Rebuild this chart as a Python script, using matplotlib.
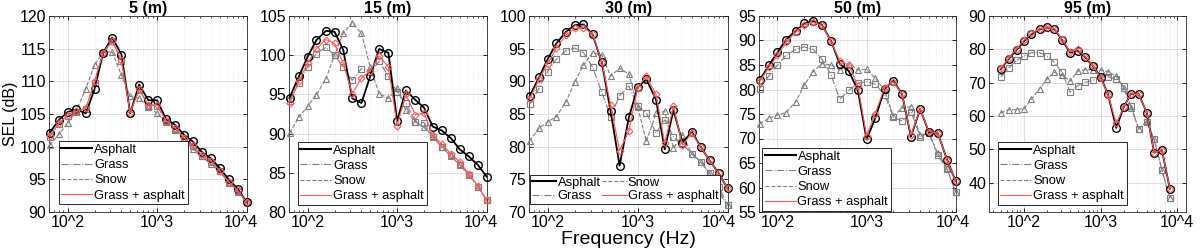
import numpy as np
import matplotlib
matplotlib.use("Agg")
import matplotlib.pyplot as plt
import matplotlib.transforms as mtransforms
from matplotlib.lines import Line2D
from matplotlib.ticker import NullFormatter, LogLocator

plt.rcParams['font.family'] = ['Liberation Sans', 'DejaVu Sans']

freq_63 = [63, 80, 100, 125, 160, 200, 250, 315, 400, 500, 630, 800, 1000,
           1250, 1600, 2000, 2500, 3150, 4000, 5000, 6300, 8000, 10000]
freq_50 = [50, 63, 80, 100, 125, 160, 200, 250, 315, 400, 500, 630, 800,
           1000, 1250, 1600, 2000, 2500, 3150, 4000, 5000, 6300, 8000]

titles = ['5 (m)', '15 (m)', '30 (m)', '50 (m)', '95 (m)']
series_names = ['Asphalt', 'Grass', 'Snow', 'Grass + asphalt']
xtick_labels = ['10^2', '10^3', '10^4']

# 5 m
asphalt_5 = [102.1, 104.1, 105.3, 105.7, 105.1, 108.8, 114.4, 116.7, 114.1, 105.1, 109.5, 107.1,
             107.1, 104.3, 103.3, 101.8, 100.8, 99.2, 98.2, 96.7, 95.0, 93.5, 91.5]
grass_5 = [101.5, 103.5, 104.7, 105.3, 105.8, 109.8, 114.3, 116.1, 113.1, 105.2, 108.7, 106.3,
           106.3, 103.9, 102.7, 101.2, 100.1, 98.6, 97.7, 96.2, 94.5, 93.2, 91.5]
snow_5 = [100.2, 101.9, 103.6, 105.5, 108.9, 112.5, 114.5, 114.5, 110.9, 107.7, 107.4, 106.1,
          105.1, 103.8, 102.6, 101.3, 99.6, 98.5, 97.3, 96.2, 94.6, 93.1, 91.5]
mixed_5 = [101.6, 103.6, 104.8, 105.4, 105.9, 110.0, 114.4, 116.2, 113.2, 105.2, 108.8, 106.4,
           106.4, 104.0, 102.8, 101.3, 100.2, 98.7, 97.8, 96.3, 94.6, 93.3, 91.5]

# 15 m
asphalt_15 = [94.6, 97.3, 99.8, 101.9, 103.1, 103.0, 100.7, 94.5, 93.9, 97.3, 100.8, 100.3,
              91.6, 95.5, 94.3, 93.3, 90.9, 90.4, 89.4, 88.0, 87.1, 86.0, 84.5]
grass_15 = [94.1, 96.5, 98.5, 100.2, 101.0, 100.0, 98.5, 96.8, 98.3, 97.8, 99.2, 97.3,
            95.3, 93.9, 91.5, 91.4, 89.6, 88.3, 87.1, 86.0, 84.7, 83.2, 81.5]
snow_15 = [90.1, 92.1, 93.5, 94.9, 97.0, 100.0, 102.8, 104.1, 102.8, 98.5, 95.1, 94.5,
           95.8, 93.0, 91.5, 90.8, 89.7, 88.3, 87.3, 86.1, 84.8, 83.2, 81.5]
mixed_15 = [93.9, 96.7, 99.0, 100.8, 102.0, 101.5, 99.0, 95.1, 97.1, 98.0, 99.9, 98.5,
            91.0, 95.0, 92.4, 92.6, 89.8, 88.7, 87.4, 86.4, 84.9, 83.3, 81.5]

# 30 m
asphalt_30 = [87.7, 90.6, 93.4, 95.8, 97.6, 98.6, 98.7, 97.2, 92.9, 85.5, 77.1, 84.5,
              89.1, 90.3, 87.2, 79.6, 85.6, 80.6, 82.3, 80.0, 77.9, 75.9, 73.6]
grass_30 = [86.5, 88.9, 91.5, 93.4, 94.7, 95.1, 94.4, 92.2, 88.3, 84.6, 87.8, 89.3,
            86.2, 85.2, 82.1, 84.1, 81.5, 80.4, 78.9, 77.7, 76.0, 73.9, 71.1]
snow_30 = [80.9, 82.8, 83.8, 84.6, 86.9, 89.9, 92.5, 94.4, 94.0, 90.8, 92.0, 91.1,
           86.1, 80.8, 85.1, 85.4, 79.8, 81.8, 78.9, 77.7, 75.9, 72.9, 71.1]
mixed_30 = [87.3, 90.3, 92.7, 95.1, 97.1, 98.1, 98.2, 97.3, 93.0, 86.4, 79.4, 82.4,
            89.0, 90.8, 88.0, 80.5, 86.2, 80.2, 82.1, 80.0, 77.9, 75.9, 73.6]

# 50 m
asphalt_50 = [81.9, 84.9, 87.6, 90.2, 92.0, 93.5, 94.0, 93.2, 89.9, 85.2, 83.8, 79.8,
              69.8, 74.1, 80.2, 81.8, 79.1, 70.4, 76.0, 71.3, 71.1, 65.7, 61.3]
grass_50 = [80.2, 82.8, 85.0, 87.0, 88.2, 88.7, 88.2, 86.2, 83.0, 78.0, 79.8, 81.3,
            81.6, 81.1, 78.9, 74.3, 73.6, 75.5, 70.4, 71.1, 66.6, 63.7, 59.1]
snow_50 = [73.0, 74.1, 74.8, 75.3, 77.5, 80.9, 83.6, 85.3, 85.0, 84.0, 85.3, 84.0,
           84.1, 82.3, 79.8, 74.6, 76.2, 76.5, 70.7, 71.1, 67.0, 63.9, 59.1]
mixed_50 = [81.7, 84.5, 87.0, 89.6, 91.7, 93.2, 93.7, 93.1, 89.8, 85.8, 85.0, 80.7,
            70.5, 75.1, 80.4, 81.6, 79.1, 70.7, 76.0, 71.4, 71.1, 65.7, 61.3]

# 95 m
asphalt_95 = [74.1, 77.1, 79.8, 82.4, 84.5, 86.0, 86.6, 86.0, 82.8, 79.0, 79.6, 77.6,
              74.9, 71.7, 66.5, 56.4, 62.7, 66.7, 66.5, 61.0, 49.0, 49.8, 38.2]
grass_95 = [71.7, 74.4, 76.7, 78.0, 79.0, 79.0, 78.0, 76.1, 73.1, 67.1, 69.1, 70.1,
            70.7, 71.3, 71.8, 71.0, 69.0, 62.9, 56.1, 58.2, 53.0, 43.8, 35.4]
snow_95 = [60.9, 61.9, 61.9, 62.2, 65.0, 68.2, 71.1, 73.1, 72.2, 70.5, 73.4, 73.9,
           73.9, 73.7, 73.3, 72.0, 68.5, 62.4, 56.1, 58.4, 53.0, 43.8, 35.4]
mixed_95 = [74.3, 77.3, 80.1, 82.7, 84.8, 86.1, 86.7, 86.1, 83.0, 79.2, 80.0, 77.8,
            75.0, 71.5, 66.4, 57.8, 62.6, 66.7, 66.5, 61.0, 49.0, 49.9, 38.2]

panels = [
    (freq_63, asphalt_5, grass_5, snow_5, mixed_5),
    (freq_63, asphalt_15, grass_15, snow_15, mixed_15),
    (freq_63, asphalt_30, grass_30, snow_30, mixed_30),
    (freq_63, asphalt_50, grass_50, snow_50, mixed_50),
    (freq_50, asphalt_95, grass_95, snow_95, mixed_95),
]

ylims = [(90, 120), (80, 105), (70, 100), (55, 95), (31.2, 90)]
yticks = [np.arange(90, 121, 5), np.arange(80, 106, 5), np.arange(70, 101, 5),
          np.arange(55, 96, 5), np.arange(40, 91, 10)]
xlims = [(62, 10100), (62, 10100), (62, 10100), (62, 10100), (35, 13000)]

# axes boxes in pixels: left, right
boxes = [(49, 247), (289, 487), (529, 728), (759, 956), (989, 1186)]
top_px, bot_px = 16, 212
W, H = 1200, 252

leg_anchor = [(0.05, 0.04), (0.045, 0.036), (0.005, 0.04), (0.015, 0.005), (0.045, 0.036)]
last_label_shift_px = [-6, -6, -9, -3, 0]

fig = plt.figure(figsize=(12, 2.52), dpi=100)

gray = '#7f7f7f'
red = '#ff5a5a'

for i, (fr, a, g, s, m) in enumerate(panels):
    l, r = boxes[i]
    ax = fig.add_axes([l / W, 1 - bot_px / H, (r - l) / W, (bot_px - top_px) / H])
    ax.set_xscale('log')
    ax.plot(fr, g, color=gray, ls='-.', lw=0.8, marker='s', ms=4.5, mfc='none', mec=gray, mew=0.8, clip_on=False, zorder=3)
    ax.plot(fr, s, color=gray, ls='--', lw=0.8, marker='^', ms=4.5, mfc='none', mec=gray, mew=0.8, clip_on=False, zorder=3)
    ax.plot(fr, a, color='black', ls='-', lw=1.3, marker='o', ms=5.5, mfc='none', mec='black', mew=1.0, clip_on=False, zorder=4)
    ax.plot(fr, m, color=red, ls='-', lw=0.8, marker='D', ms=3.5, mfc='none', mec=red, mew=0.8, clip_on=False, zorder=5)
    ax.set_xlim(*xlims[i])
    ax.set_ylim(*ylims[i])
    ax.set_yticks(yticks[i])
    ax.set_xticks([100, 1000, 10000])
    ax.set_xticklabels(xtick_labels)
    ax.xaxis.set_minor_locator(LogLocator(base=10, subs=np.arange(2, 10), numticks=20))
    ax.xaxis.set_minor_formatter(NullFormatter())
    ax.tick_params(axis='both', which='major', direction='in', length=3, labelsize=11.5, pad=2, width=0.6)
    ax.tick_params(axis='both', which='minor', direction='in', length=1.5, width=0.5)
    ax.tick_params(top=True, right=True, which='both')
    ax.grid(True, which='major', color='#d9d9d9', lw=0.6, ls='-')
    ax.grid(True, which='minor', axis='x', color='#e2e2e2', lw=0.5, ls=':')
    ax.set_axisbelow(True)
    for sp in ax.spines.values():
        sp.set_color('#262626')
        sp.set_linewidth(0.6)
    ax.set_title(titles[i], fontsize=11.5, fontweight='bold', pad=2)
    if i == 0:
        ax.set_ylabel('SEL (dB)', fontsize=11.5, labelpad=1)
    if i == 2:
        ax.set_xlabel('Frequency (Hz)', fontsize=14, labelpad=1)

    shift = last_label_shift_px[i]
    if shift:
        lab = ax.get_xticklabels()[-1]
        lab.set_transform(lab.get_transform() + mtransforms.ScaledTranslation(shift / 100, 0, fig.dpi_scale_trans))

    handles = [
        Line2D([], [], color='black', lw=1.5, ls='-'),
        Line2D([], [], color=gray, lw=0.8, ls='-.'),
        Line2D([], [], color=gray, lw=0.8, ls='--'),
        Line2D([], [], color=red, lw=0.8, ls='-'),
    ]
    if i == 2:
        leg = ax.legend(handles, series_names, ncol=2, loc='lower left', bbox_to_anchor=leg_anchor[i],
                        borderaxespad=0, fontsize=9.3, handlelength=1.9, handletextpad=0.1,
                        columnspacing=0.1, labelspacing=0.1, borderpad=0.15, fancybox=False,
                        framealpha=1, edgecolor='#262626')
    else:
        leg = ax.legend(handles, series_names, loc='lower left', bbox_to_anchor=leg_anchor[i],
                        borderaxespad=0, fontsize=9.3, handlelength=2.4, handletextpad=0.15,
                        labelspacing=0.25, borderpad=0.2, fancybox=False,
                        framealpha=1, edgecolor='#262626')
    leg.get_frame().set_linewidth(0.7)
    leg.set_zorder(10)

fig.savefig('out.png', dpi=100)
